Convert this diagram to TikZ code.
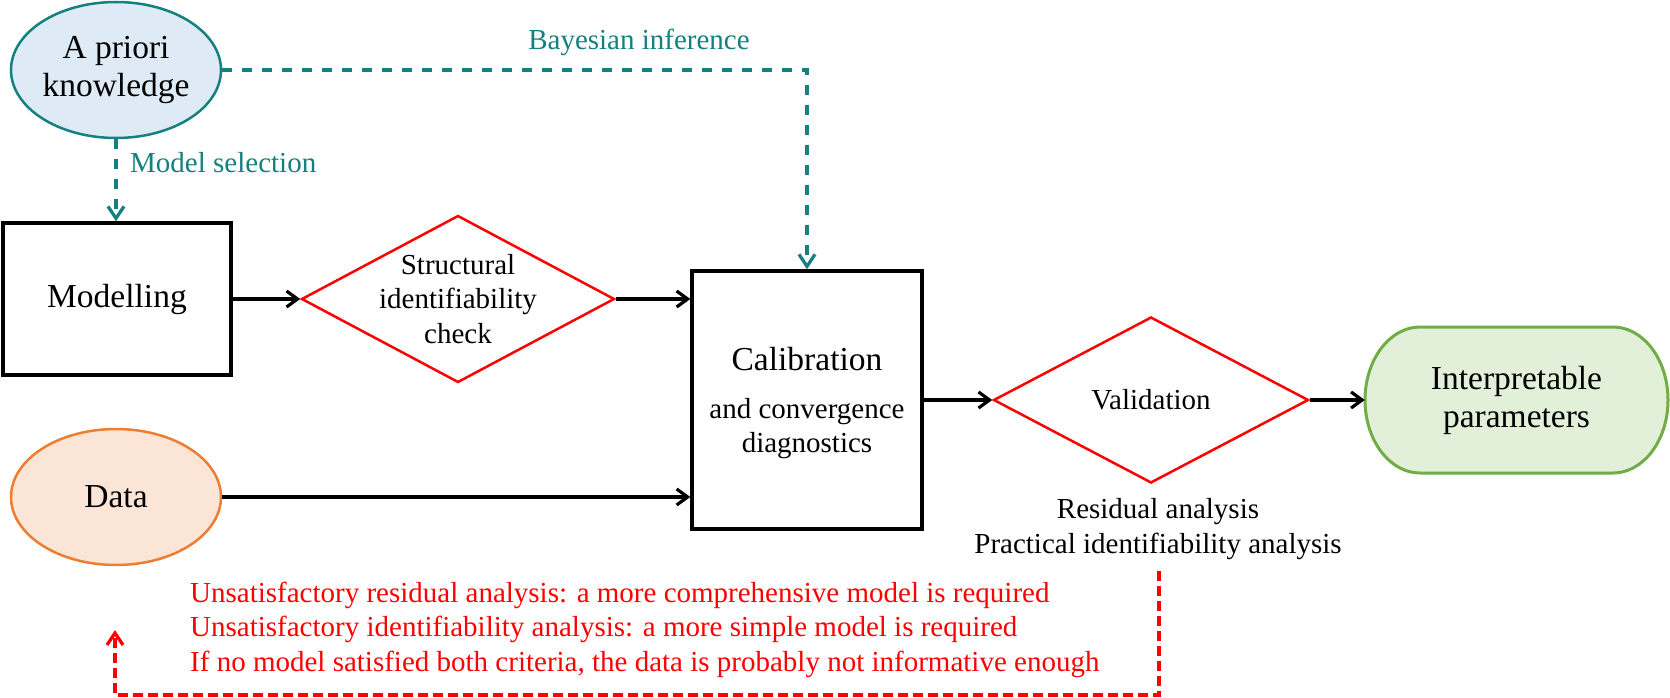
\documentclass[tikz,border=0pt]{standalone}
\usepackage{fontspec}
\setmainfont{Liberation Serif}
\usetikzlibrary{shapes.geometric,arrows.meta,calc}
\definecolor{tealc}{RGB}{20,128,128}
\definecolor{blfill}{RGB}{222,235,247}
\definecolor{orfill}{RGB}{251,229,214}
\definecolor{ordraw}{RGB}{237,125,49}
\definecolor{grfill}{RGB}{226,240,217}
\definecolor{grdraw}{RGB}{112,173,71}
\definecolor{redc}{RGB}{255,0,0}
\begin{document}
\begin{tikzpicture}[x=1pt,y=-1pt,
  big/.style={font=\fontsize{33.5}{38}\selectfont},
  small/.style={font=\fontsize{29}{34.5}\selectfont},
  boxnode/.style={draw=black,line width=3.3pt,inner sep=0pt},
  decision/.style={diamond,draw=redc,line width=2.5pt,inner sep=0pt},
  oval/.style={ellipse,line width=2.5pt,inner sep=0pt,minimum width=210pt,minimum height=136pt},
  blk/.style={-{Straight Barb[length=11pt,width=16pt]},line width=3.2pt},
  tealarrow/.style={-{Straight Barb[length=12pt,width=16pt]},draw=tealc,line width=3.3pt,dash pattern=on 10pt off 10pt},
  redarrow/.style={-{Straight Barb[length=12pt,width=16pt]},draw=redc,line width=3.3pt,dash pattern=on 10pt off 5pt},
  tealtext/.style={small,text=tealc,inner sep=0pt},
  redtext/.style={small,text=redc,inner sep=0pt},
  plaintext/.style={inner sep=0pt,align=center}]
\useasboundingbox (0,0) rectangle (1670,698);

% nodes
\node[oval,draw=tealc,fill=blfill,big,align=center] (apriori) at (116,70) {A priori\\knowledge};
\node[boxnode,big,minimum width=228pt,minimum height=152pt] (model) at (117,299) {Modelling};
\node[decision,minimum width=313pt,minimum height=167pt] (sid) at (458,299) {};
\node[plaintext,small] (sidt) at (sid.center) {Structural\\identifiability\\check};
\node[boxnode,minimum width=230pt,minimum height=258pt] (calib) at (807,400) {};
\node[plaintext,big,anchor=base] (calt1) at (807,370) {Calibration};
\node[plaintext,small,anchor=base] (calt2) at (807,418) {and convergence};
\node[plaintext,small,anchor=base] (calt3) at (807,452) {diagnostics};
\node[oval,draw=ordraw,fill=orfill,big] (data) at (116,497) {Data};
\node[decision,minimum width=315pt,minimum height=166pt] (val) at (1151,400) {};
\node[plaintext,small] (valt) at (val.center) {Validation};
\node[plaintext,small,anchor=base] (res1) at (1158,518) {Residual analysis};
\node[plaintext,small,anchor=base] (res2) at (1158,553) {Practical identifiability analysis};

% interpretable parameters shape
\coordinate (ic) at (1516.5,400);
\draw[draw=grdraw,fill=grfill,line width=3pt]
  (1420,327) -- (1613,327)
  arc[start angle=-90,end angle=0,x radius=55,y radius=73]
  arc[start angle=0,end angle=90,x radius=55,y radius=73]
  -- (1420,473)
  arc[start angle=90,end angle=180,x radius=55,y radius=73]
  arc[start angle=180,end angle=270,x radius=55,y radius=73]
  -- cycle;
\node[plaintext,big,minimum width=303pt,minimum height=146pt] (interp) at (ic) {Interpretable\\parameters};

% labels
\node[tealtext,anchor=base] (bayes) at (639,50) {Bayesian inference};
\node[tealtext,anchor=base west] (msel) at (130,172) {Model selection};
\node[redtext,anchor=base west] (red1) at (190,602) {Unsatisfactory residual analysis: a more comprehensive model is required};
\node[redtext,anchor=base west] (red2) at (190,636) {Unsatisfactory identifiability analysis: a more simple model is required};
\node[redtext,anchor=base west] (red3) at (190,671) {If no model satisfied both criteria, the data is probably not informative enough};

% connectors
\draw[tealarrow] (apriori.south) -- (apriori.south |- model.north);
\draw[tealarrow] (apriori.east) -| (calib.north);
\draw[blk] (model.east) -- (sid.west);
\draw[blk] (sid.east) -- (sid.east -| calib.west);
\draw[blk] (data.east) -- (data.east -| calib.west);
\draw[blk] (calib.east) -- (val.west);
\draw[blk] (val.east) -- (interp.west);

\coordinate (rs) at (1159,571);
\coordinate (rb) at (115,695);
\coordinate (re) at (115,630);
\draw[redarrow] (rs) |- (rb) -- (re);
\end{tikzpicture}
\end{document}
